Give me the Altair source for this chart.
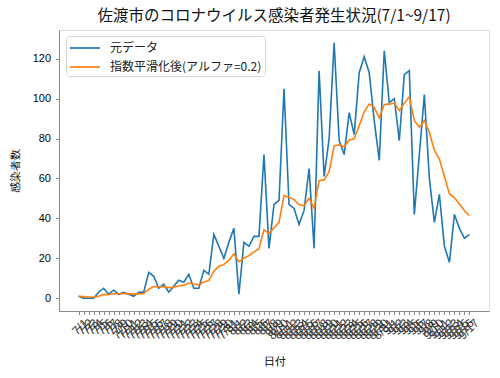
import json
import altair as alt
import pandas as pd

# ---- data ----
months = [(7, 31), (8, 31), (9, 17)]
dates = [f"{m}/{d}" for m, n in months for d in range(1, n + 1)]

raw = [1, 0, 0, 0, 3, 5, 2, 4, 2, 3,
       2, 1, 3, 3, 13, 11, 5, 7, 3, 6,
       9, 8, 12, 5, 5, 14, 12, 32, 26, 20,
       28, 35, 2, 28, 26, 31, 31, 72, 25, 47,
       49, 105, 47, 45, 37, 44, 65, 25, 114, 61,
       80, 128, 79, 72, 93, 82, 113, 121, 113, 89,
       69, 124, 98, 100, 79, 112, 114, 42, 72, 102,
       60, 38, 52, 26, 18, 42, 35, 30, 32]

smoothed = [1.0, 0.8, 0.64, 0.51, 1.01, 1.81, 1.85, 2.28, 2.22, 2.38,
            2.3, 2.04, 2.23, 2.39, 4.51, 5.81, 5.65, 5.92, 5.33, 5.47,
            6.17, 6.54, 7.63, 7.1, 6.68, 8.15, 8.92, 13.53, 16.03, 16.82,
            19.06, 22.25, 18.2, 20.16, 21.33, 23.26, 24.81, 34.25, 32.4, 35.32,
            38.06, 51.44, 50.56, 49.44, 46.96, 46.36, 50.09, 45.07, 58.86, 59.29,
            63.43, 76.34, 76.88, 75.9, 79.32, 79.86, 86.48, 93.39, 97.31, 95.65,
            90.32, 97.06, 97.24, 97.8, 94.04, 97.63, 100.9, 89.12, 85.7, 88.96,
            83.17, 74.13, 69.71, 60.97, 52.37, 50.3, 47.24, 43.79, 41.43]

series_names = ["元データ", "指数平滑化後(アルファ=0.2)"]
series_colors = ["#1f77b4", "#ff7f0e"]
y_ticks = [0, 20, 40, 60, 80, 100, 120]

df_raw = pd.DataFrame({"idx": range(len(raw)), "value": raw, "series": series_names[0]})
df_s = pd.DataFrame({"idx": range(len(smoothed)), "value": smoothed, "series": series_names[1]})

n = len(dates)
xpad = (n - 1) * 0.05
ymax = max(raw)
ypad = ymax * 0.05

x_enc = alt.X(
    "idx:Q",
    scale=alt.Scale(domain=[-xpad, n - 1 + xpad], nice=False, zero=False),
    axis=alt.Axis(
        values=list(range(n)),
        labelExpr=json.dumps(dates) + "[datum.value]",
        labelAngle=-45,
        labelAlign="right",
        labelBaseline="middle",
        labelOffset=7,
        labelFontSize=12,
        labelOverlap=False,
        labelPadding=6,
        labelColor="#333",
        tickSize=3.5,
        grid=False,
        title="日付",
        titleY=50,
        titleBaseline="middle",
        titleFontWeight="normal",
    ),
)
y_enc = alt.Y(
    "value:Q",
    scale=alt.Scale(domain=[-ypad, ymax + ypad], nice=False, zero=False),
    axis=alt.Axis(values=y_ticks, grid=False, tickSize=3.5, labelPadding=5,
                  labelFontSize=11, title="感染者数", titlePadding=12,
                  titleFontWeight="normal"),
)
color_enc = alt.Color(
    "series:N",
    scale=alt.Scale(domain=series_names, range=series_colors),
    legend=alt.Legend(
        title=None, orient="none", legendX=7, legendY=6,
        symbolType="M-1,0H2.75", symbolSize=256, symbolStrokeWidth=1.7,
        labelFontSize=12, labelOffset=23, rowPadding=4,
        padding=3, strokeColor="#d5d5d5", fillColor="white", cornerRadius=3,
        labelFont="Noto Sans CJK JP", labelColor="#222",
    ),
)

line_raw = alt.Chart(df_raw).mark_line(strokeWidth=1.6).encode(x=x_enc, y=y_enc, color=color_enc)
line_s = alt.Chart(df_s).mark_line(strokeWidth=1.6).encode(x=x_enc, y=y_enc, color=color_enc)

chart = (
    alt.layer(line_raw, line_s)
    .properties(
        width=430, height=281,
        title=alt.TitleParams("佐渡市のコロナウイルス感染者発生状況(7/1~9/17)",
                              fontSize=15.5, fontWeight="normal", font="Noto Sans CJK JP",
                              color="#111", offset=6),
        autosize=alt.AutoSizeParams(type="none"),
        padding={"left": 59, "top": 30, "right": 11, "bottom": 67},
    )
    .configure_view(stroke="#222", strokeWidth=1)
    .configure_axis(
        domainColor="#222", tickColor="#222", labelColor="#222", titleColor="#222",
        labelFont="DejaVu Sans", titleFont="Noto Sans CJK JP", titleFontSize=12,
        titleFontWeight="normal",
    )
    .configure(background="white")
)

chart.save("out.html", embed_options={"renderer": "svg", "actions": False})
